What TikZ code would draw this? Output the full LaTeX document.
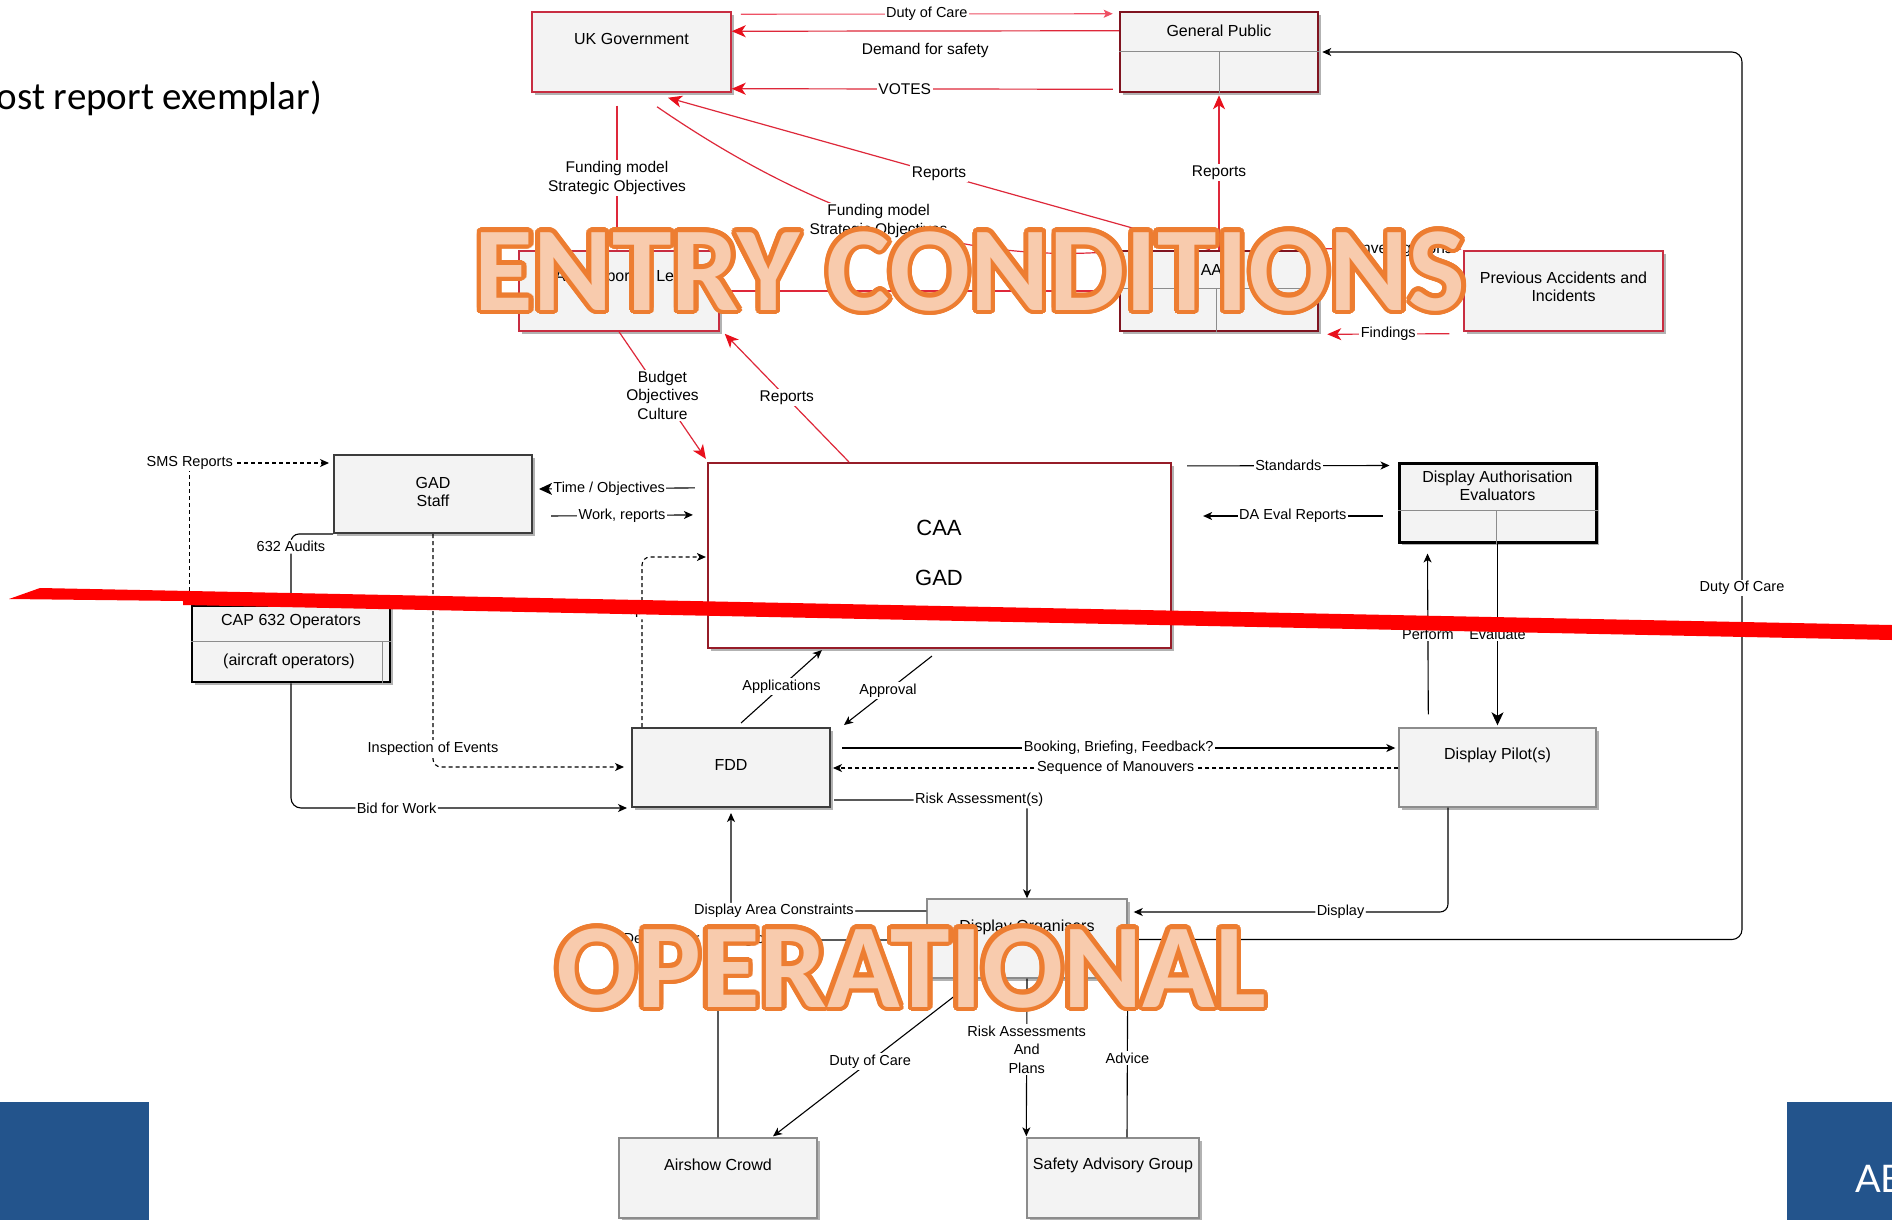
\documentclass[tikz,border=0pt]{standalone}
\usepackage{fontspec}
\setmainfont{Liberation Sans}
\newfontfamily\calfont{Carlito}
\newfontfamily\latofont{Lato}
\usetikzlibrary{arrows.meta,calc,shadows}
\definecolor{edgered}{RGB}{222,40,58}
\definecolor{tipred}{RGB}{232,16,28}
\definecolor{boxred}{RGB}{200,45,65}
\definecolor{darkred}{RGB}{128,20,32}
\definecolor{caared}{RGB}{150,28,40}
\definecolor{pinkred}{RGB}{238,80,100}
\definecolor{boxfill}{RGB}{243,243,243}
\definecolor{boxgray}{RGB}{140,140,140}
\definecolor{boxdark}{RGB}{60,60,60}
\definecolor{ovfill}{RGB}{248,203,173}
\definecolor{ovline}{RGB}{237,125,49}
\definecolor{slideblue}{RGB}{35,84,140}
\definecolor{barred}{RGB}{255,0,0}
\tikzset{
 shad/.style={drop shadow={shadow xshift=3pt,shadow yshift=-3pt,opacity=0.3,fill=black}},
 rbox/.style={draw=boxred,line width=1.5pt,fill=boxfill,shad},
 drbox/.style={draw=darkred,line width=2.5pt,fill=boxfill,shad},
 kbox/.style={draw=black,line width=2.6pt,fill=boxfill,shad},
 dbox/.style={draw=boxdark,line width=2pt,fill=boxfill,shad},
 gbox/.style={draw=boxgray,line width=1.4pt,fill=boxfill,shad},
 btxt/.style={font=\fontsize{16}{18}\selectfont,align=center,inner sep=0pt},
 rlab/.style={font=\fontsize{15.5}{18.5}\selectfont,fill=white,inner sep=1.5pt,align=center},
 klab/.style={font=\fontsize{14.5}{18.5}\selectfont,fill=white,inner sep=1.5pt,align=center},
 redln/.style={draw=edgered,line width=1.2pt},
 redarr/.style={redln,-{Stealth[length=14pt,width=12pt,inset=4pt,color=tipred]}},
 blk/.style={draw=black,line width=1.1pt},
 blkarr/.style={blk,-{Stealth[length=9pt,width=8pt,inset=2.5pt]}},
 bigarr/.style={blk,-{Stealth[length=13pt,width=12pt,inset=3.5pt]}},
 dsh/.style={dash pattern=on 4pt off 3pt},
 divl/.style={draw=boxgray,line width=1pt},
 ovstyle/.style={font=\calfont\bfseries\fontsize{120}{120}\selectfont,anchor=base,inner sep=0pt},
}
\begin{document}
\begin{tikzpicture}[x=1pt,y=-1pt]
\useasboundingbox (0,0) rectangle (1892,1220);
\clip (0,0) rectangle (1892,1220);
\fill[white] (0,0) rectangle (1892,1220);

% title fragment and slide blocks
\node[font=\calfont\fontsize{39}{42}\selectfont,anchor=base east,inner sep=0pt] (title) at (322,110) {ost report exemplar)};
\fill[slideblue] (0,1102) rectangle (149,1220);
\fill[slideblue] (1787,1102) rectangle (1892,1220);
\node[font=\latofont\fontsize{38}{40}\selectfont,text=white,anchor=base west,inner sep=0pt] (abtxt) at (1855,1192) {AB};

% boxes
\node[rbox,minimum width=199,minimum height=80] (ukgov) at (631.5,52) {};
\node[btxt] (ukgovt) at (631.5,39) {UK Government};

\node[drbox,minimum width=198,minimum height=80] (gp) at (1219,52) {};
\draw[divl] ($(gp.north west)+(0,41)$) -- ($(gp.north east)+(0,41)$);
\draw[divl] ($(gp.north)+(0,41)$) -- (gp.south);
\node[btxt] (gpt) at (1219,31) {General Public};

\node[rbox,minimum width=200,minimum height=80] (cc) at (619,291) {};
\node[btxt] (cct) at (619,277) {CAA Corporate Level};

\node[drbox,minimum width=198,minimum height=80] (aaib) at (1219,291) {};
\draw[divl] ($(aaib.north west)+(0,39)$) -- ($(aaib.north east)+(0,39)$);
\draw[divl] ($(aaib.north)+(-3,39)$) -- ($(aaib.south)+(-3,0)$);
\node[btxt] (aaibt) at (1219,270) {AAIB};

\node[rbox,minimum width=199,minimum height=80] (pai) at (1563.5,291) {};
\node[btxt] (pait) at (1563.5,287) {Previous Accidents and\\Incidents};

\node[dbox,minimum width=198,minimum height=78] (gad) at (433,494) {};
\node[btxt] (gadt) at (433,492) {GAD\\Staff};

\node[draw=caared,line width=2.2pt,fill=white,shad,minimum width=463,minimum height=185] (caa) at (939.5,555.5) {};
\node[font=\fontsize{22}{24}\selectfont,inner sep=0pt] (caat) at (939,528) {CAA};
\node[font=\fontsize{22}{24}\selectfont,inner sep=0pt] (caagadt) at (939,578) {GAD};

\node[kbox,line width=3pt,minimum width=197,minimum height=79] (dae) at (1497.5,502.5) {};
\draw[divl] ($(dae.north west)+(0,49)$) -- ($(dae.north east)+(0,49)$);
\draw[divl] ($(dae.north)+(-1.5,49)$) -- ($(dae.south)+(-1.5,0)$);
\node[btxt] (daet) at (1497.5,486) {Display Authorisation\\Evaluators};

\node[kbox,minimum width=198,minimum height=76] (cap) at (291,644) {};
\draw[divl] ($(cap.north west)+(0,37)$) -- ($(cap.north east)+(0,37)$);
\draw[divl] ($(cap.north east)+(-9,37)$) -- ($(cap.south east)+(-9,0)$);
\node[btxt] (capt) at (291,622) {CAP 632 Operators};
\node[btxt] (capt2) at (289,661) {(aircraft operators)};

\node[dbox,minimum width=198,minimum height=79] (fdd) at (731,767.5) {};
\node[btxt] (fddt) at (731,765) {FDD};

\node[gbox,minimum width=197,minimum height=79] (dp) at (1497.5,767.5) {};
\node[btxt] (dpt) at (1497.5,755) {Display Pilot(s)};

\node[gbox,minimum width=200,minimum height=79] (do) at (1027,938.5) {};
\node[btxt] (dot) at (1027,927) {Display Organisers};

\node[gbox,minimum width=198,minimum height=80] (ac) at (718,1178) {};
\node[btxt] (act) at (718,1165) {Airshow Crowd};

\node[gbox,minimum width=172,minimum height=80] (sag) at (1113,1178) {};
\node[btxt] (sagt) at (1113,1165) {Safety Advisory Group};

% red connectors
\draw[draw=pinkred,line width=1.1pt,-{Stealth[length=9pt,width=8pt,inset=2pt]}] ($(ukgov.north east)+(9,3)$) -- ($(gp.north west)+(-6,3)$) node[rlab,midway,font=\fontsize{14.5}{17}\selectfont] (l1) {Duty of Care};
\draw[redarr] ($(gp.north west)+(0,20)$) -- ($(ukgov.north east)+(0,20)$) node[rlab,midway,below=10pt,fill=none] (l2) {Demand for safety};
\draw[redarr] ($(gp.south west)+(-6,-4)$) -- ($(ukgov.south east)+(0,-4)$) node[rlab,pos=0.546] (l3) {VOTES};
\draw[redarr] ($(aaib.north)+(-9,0)$) -- ($(ukgov.south)+(36.5,5)$) node[rlab,midway] (l4) {Reports};
\draw[redarr] ($(ukgov.south)+(25.5,14)$) .. controls (800,205) and (950,265) .. ($(aaib.north west)+(3,1)$) node[rlab,pos=0.5] (l5) {Funding model\\Strategic Objectives};
\draw[redarr] ($(ukgov.south)+(-14.5,13)$) -- ($(cc.north)+(-2,0)$) node[rlab,midway] (l6) {Funding model\\Strategic Objectives};
\draw[redarr] (aaib.north) -- ($(gp.south)+(0,2)$) node[rlab,midway] (l7) {Reports};
\draw[redln] (cc.east) -- (aaib.west);
\draw[redarr] ($(aaib.north east)+(2,-1)$) -- ($(pai.north west)+(-2,-1)$) node[rlab,pos=0.6] (l8) {Investigations};
\draw[redarr] ($(pai.south west)+(-14,2)$) -- ($(aaib.south east)+(8,2)$) node[rlab,midway,font=\fontsize{14.5}{17}\selectfont] (l9) {Findings};
\draw[redarr] (cc.south) -- ($(caa.north west)+(-1,-3)$) node[rlab,midway] (l10) {Budget\\Objectives\\Culture};
\draw[redarr] ($(caa.north west)+(142,0)$) -- ($(cc.south east)+(5,2)$) node[rlab,midway] (l11) {Reports};

% black connectors
\draw[bigarr] ($(caa.north west)+(-12,26)$) -- ($(gad.east)+(6,-5)$) node[klab,pos=0.55] (k1) {Time / Objectives};
\draw[blkarr] ($(gad.east)+(18,22)$) -- ($(caa.north west)+(-14,53)$) node[klab,midway] (k2) {Work, reports};
\draw[blkarr,dsh] ($(cap.north west)+(-1,0)$) |- ($(gad.west)+(-4,-31)$) node[klab,pos=0.5] (k3) {SMS Reports};
\draw[blk,rounded corners=8pt] (cap.north) |- (gad.south west) node[klab,pos=0.41] (k4) {632 Audits};
\draw[blkarr,dsh,rounded corners=8pt] ($(fdd.north west)+(11,0)$) |- ($(caa.west)+(-1,1.5)$) node[klab,pos=0.34] (k5) {Reports};
\draw[blkarr,dsh,rounded corners=8pt] (gad.south) |- ($(fdd.west)+(-7,-0.5)$) node[klab,pos=0.46] (k6) {Inspection of Events};
\draw[blkarr,rounded corners=10pt] (cap.south) |- ($(fdd.south west)+(-4,0)$) node[klab,pos=0.657] (k7) {Bid for Work};
\draw[blkarr] ($(fdd.north)+(10,-4)$) -- ($(caa.south west)+(115,1)$) node[klab,midway] (k8) {Applications};
\draw[blkarr] ($(caa.south west)+(225,7)$) -- ($(fdd.north east)+(13,-2)$) node[klab,midway] (k9) {Approval};
\draw[blkarr] ($(caa.north east)+(15,4)$) -- ($(dae.north west)+(-8,4)$) node[klab,midway] (k10) {Standards};
\draw[blkarr] ($(dae.west)+(-15,13.5)$) -- ($(caa.east)+(31,-39.5)$) node[klab,midway] (k11) {DA Eval Reports};
\draw[blkarr] ($(dp.north west)+(30,-13)$) -- ($(dae.south west)+(30,10)$) node[klab,midway] (k12) {Perform};
\draw[bigarr] (dae.south) -- ($(dp.north)+(0,-2)$) node[klab,midway] (k13) {Evaluate};
\draw[blkarr] ($(fdd.east)+(11,-19.5)$) -- ($(dp.west)+(-3,-19.5)$) node[klab,midway] (k14) {Booking, Briefing, Feedback?};
\draw[blkarr,dsh] ($(dp.west)+(0,0.5)$) -- ($(fdd.east)+(2,0.5)$) node[klab,midway] (k15) {Sequence of Manouvers};
\draw[blkarr,rounded corners=8pt] ($(fdd.east)+(3,32.5)$) -| (do.north) node[klab,pos=0.376] (k16) {Risk Assessment(s)};
\draw[blkarr,rounded corners=8pt] ($(do.west)+(0,-27.5)$) -| ($(fdd.south)+(0,5)$) node[klab,pos=0.39] (k17) {Display Area Constraints};
\draw[blk,rounded corners=8pt] (ac.north) |- ($(do.west)+(0,1.5)$) node[klab,pos=0.5] (k18) {Demand for exciting content?};
\draw[blkarr] ($(do.south west)+(30,16)$) -- ($(ac.north)+(55,-1)$) node[klab,pos=0.47] (k19) {Duty of Care};
\draw[blkarr] (do.south) -- ($(sag.north west)+(0,-1)$) node[klab,pos=0.45] (k20) {Risk Assessments\\And\\Plans};
\draw[blk] ($(sag.north)+(14,0)$) -- (do.south east) node[klab,midway] (k21) {Advice};
\draw[blkarr,rounded corners=8pt] ($(dp.south)+(-49.5,0)$) |- ($(do.east)+(6,-26.5)$) node[klab,pos=0.671] (k22) {Display};
\coordinate (loopa) at (1742,939.5);
\coordinate (loopb) at (1742,52);
\draw[blkarr,rounded corners=10pt] ($(do.east)+(0,1)$) -- (loopa) -- (loopb) -- ($(gp.east)+(3,0)$);
\node[klab] (k23) at (1742,588) {Duty Of Care};

% overlay words
\foreach \a in {0,15,...,345} {
  \node[ovstyle,text=ovline] (ecopy\a) at ($(970,310)+(\a:4.5)$) {ENTRY CONDITIONS};
  \node[ovstyle,text=ovline] (ocopy\a) at ($(911,1007)+(\a:4.5)$) {OPERATIONAL};
}
\node[ovstyle,text=ovfill] (entry) at (970,310) {ENTRY CONDITIONS};
\node[ovstyle,text=ovfill] (oper) at (911,1007) {OPERATIONAL};

% red slash bar
\fill[barred] (9,599) -- (40,588) -- (1892,625) -- (1892,640) -- (183,605) -- (183,601) -- cycle;
\end{tikzpicture}
\end{document}
